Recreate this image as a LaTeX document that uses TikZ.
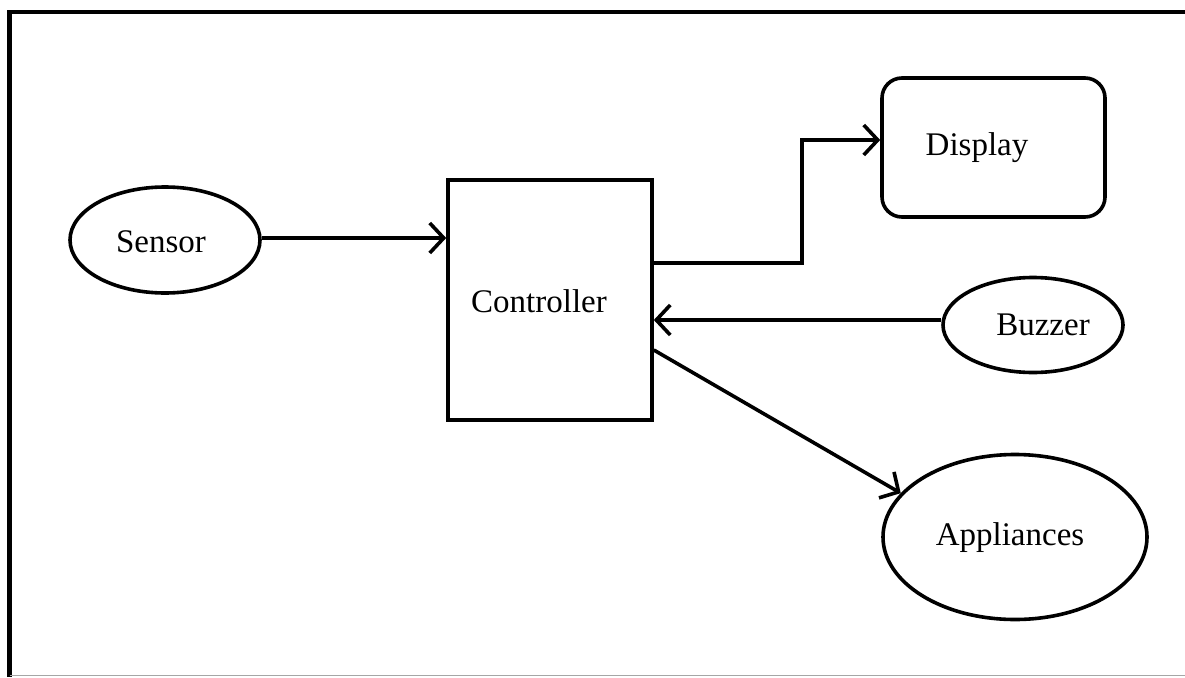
\documentclass[tikz,border=0pt]{standalone}
\usepackage{fontspec}
\setmainfont{Liberation Serif}
\usetikzlibrary{shapes.geometric,arrows.meta}
\begin{document}
\begin{tikzpicture}[x=1pt,y=-1pt,
  shp/.style={draw, line width=3.6pt, inner sep=0pt},
  ell/.style={shp, ellipse},
  txt/.style={font=\fontsize{33}{40}\selectfont, inner sep=0pt, anchor=base},
  arr/.style={line width=3.6pt, -{Straight Barb[length=14pt,width=30pt]}}]
\useasboundingbox (0,0) rectangle (1185,677);
\fill[white] (0,0) rectangle (1185,677);
% frame
\draw[line width=4.5pt] (1185,12) -- (9.5,12) -- (9.5,677);
\draw[line width=1.5pt, gray!70] (9.5,675.5) -- (1185,675.5);
% shapes
\node[ell, minimum width=190pt, minimum height=106pt] (sensor) at (165,240) {};
\node[shp, rectangle, minimum width=204pt, minimum height=240pt] (ctrl) at (550,300) {};
\node[shp, rectangle, rounded corners=20pt, minimum width=223pt, minimum height=139pt] (disp) at (993.5,147.5) {};
\node[ell, minimum width=180pt, minimum height=95pt] (buzz) at (1033,325) {};
\node[ell, minimum width=264pt, minimum height=165pt] (appl) at (1015,537) {};
% texts
\node[txt] (sensorT) at (161,252) {Sensor};
\node[txt] (ctrlT) at (539,312) {Controller};
\node[txt] (dispT) at (977,155) {Display};
\node[txt] (buzzT) at (1043,335) {Buzzer};
\node[txt] (applT) at (1010,545) {Appliances};
% connectors
\draw[arr] ([yshift=2pt]sensor.east) -- ([yshift=2pt]sensor.east -| ctrl.west);
\draw[arr] ([yshift=37pt]ctrl.east) -- ++(148,0) |- ([yshift=7.5pt]disp.west);
\draw[arr] ([yshift=5pt]buzz.west) -- ([yshift=-20pt]ctrl.east);
\draw[arr] ([yshift=-50pt]ctrl.east) -- (appl.159);
\end{tikzpicture}
\end{document}
